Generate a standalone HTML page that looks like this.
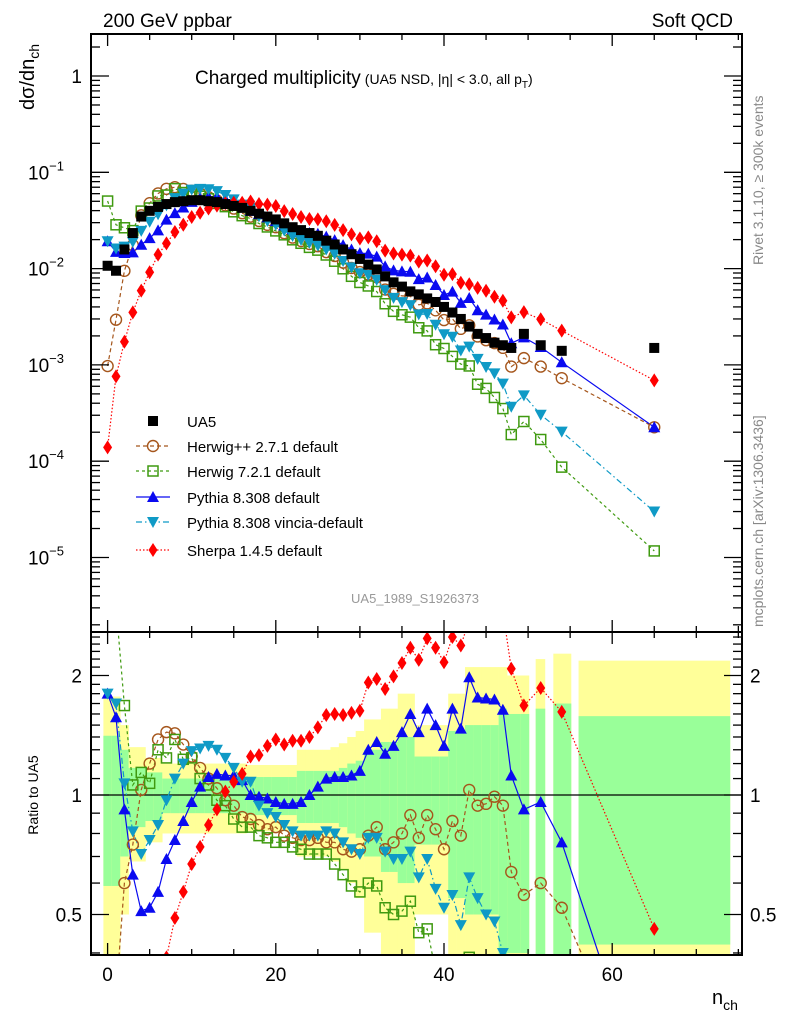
<!DOCTYPE html>
<html><head><meta charset="utf-8"><style>
html,body{margin:0;padding:0;background:#fff;width:786px;height:1024px;overflow:hidden;}
svg{display:block;font-family:"Liberation Sans",sans-serif;}
</style></head><body>
<svg id="chart" width="786" height="1024" viewBox="0 0 786 1024" xmlns="http://www.w3.org/2000/svg">
<defs>
<clipPath id="cm"><rect x="91" y="34" width="651" height="598"/></clipPath>
<clipPath id="cr"><rect x="91" y="632" width="651" height="323"/></clipPath>
</defs>
<g id="bands" clip-path="url(#cr)"></g>
<g id="ratio" clip-path="url(#cr)"></g>
<g id="main" clip-path="url(#cm)"></g>
<g id="axes"></g>
<text x="103" y="27" font-size="19">200 GeV ppbar</text>
<text x="733" y="27" font-size="19" text-anchor="end">Soft QCD</text>
<text x="195" y="84" font-size="19">Charged multiplicity<tspan font-size="14" dx="4">(UA5 NSD, |η| &lt; 3.0, all p</tspan><tspan font-size="10" dy="4">T</tspan><tspan font-size="14" dy="-4">)</tspan></text>
<text transform="translate(34,110) rotate(-90)" font-size="20">dσ/dn<tspan font-size="14" dy="5">ch</tspan></text>
<text transform="translate(38,795) rotate(-90)" font-size="14" text-anchor="middle">Ratio to UA5</text>
<text x="712" y="1004" font-size="20">n<tspan font-size="14" dy="6">ch</tspan></text>
<text x="415" y="603" font-size="13" fill="#999" text-anchor="middle">UA5_1989_S1926373</text>
<text transform="translate(763,265) rotate(-90)" font-size="14" fill="#888">Rivet 3.1.10, ≥ 300k events</text>
<text transform="translate(763,627) rotate(-90)" font-size="14" fill="#888">mcplots.cern.ch [arXiv:1306.3436]</text>
<g id="legend"></g>
</svg>
<script>
const nch=[0,1,2,3,4,5,6,7,8,9,10,11,12,13,14,15,16,17,18,19,20,21,22,23,24,25,26,27,28,29,30,31,32,33,34,35,36,37,38,39,40,41,42,43,44,45,46,47,48,49.5,51.5,54,65];
const binLo=[47.5,49.05,50.9,53,56];
const binHi=[49.05,50.1,52,55.1,74];
const ua5=[0.0107,0.0095,0.0158,0.0234,0.0347,0.0398,0.0437,0.0468,0.049,0.0501,0.0513,0.0513,0.0501,0.049,0.0468,0.0447,0.0427,0.0398,0.0372,0.0347,0.0324,0.0295,0.0269,0.0251,0.0234,0.0219,0.0195,0.0178,0.0158,0.0141,0.0126,0.011,0.0098,0.0083,0.0072,0.0065,0.0058,0.0054,0.0049,0.0045,0.004,0.0035,0.003,0.0025,0.0021,0.0019,0.0017,0.0016,0.0015,0.0021,0.0016,0.0014,0.0015];
const errStat=[.41,.41,.3,.17,.17,.14,.14,.1,.1,.1,.1,.1,.1,.1,.1,.1,.1,.11,.11,.11,.11,.11,.11,.15,.15,.15,.15,.15,.17,.2,.22,.3,.3,.36,.36,.4,.4,.25,.25,.25,.25,.45,.45,.5,.5,.5,.5,.65,.6,.6,.65,.7,.58];
const errTot=[.77,.77,.5,.32,.32,.24,.24,.2,.2,.2,.2,.2,.2,.2,.2,.2,.2,.19,.19,.19,.19,.19,.19,.3,.3,.3,.3,.32,.35,.4,.45,.55,.55,.65,.65,.8,.8,.5,.5,.5,.5,.8,.8,1.1,1.1,1.1,1.1,1.1,1.0,1.0,1.2,1.27,1.18];
const rHerwigPP=[0.091,0.31,0.6,0.75,1.03,1.2,1.38,1.44,1.43,1.34,1.25,1.17,1.1,1.04,0.97,0.94,0.88,0.87,0.84,0.82,0.83,0.79,0.78,0.77,0.77,0.78,0.76,0.76,0.73,0.72,0.73,0.79,0.83,0.73,0.76,0.8,0.89,0.78,0.89,0.82,0.73,0.86,0.79,1.03,0.94,0.95,0.99,0.94,0.64,0.56,0.6,0.52,0.15];
const rHerwig7=[4.7,3.0,1.68,1.06,1.14,1.07,1.3,1.24,1.38,1.23,1.24,1.1,1.06,0.97,0.94,0.87,0.83,0.83,0.79,0.78,0.76,0.76,0.74,0.73,0.71,0.71,0.71,0.67,0.63,0.59,0.57,0.6,0.59,0.52,0.5,0.51,0.54,0.45,0.46,0.36,0.37,0.35,0.34,0.39,0.3,0.3,0.27,0.22,0.126,0.123,0.105,0.062,0.0078];
const rPythia=[1.8,1.57,0.92,0.63,0.51,0.52,0.57,0.69,0.77,0.86,0.96,1.05,1.11,1.13,1.12,1.12,1.09,1.0,0.99,0.98,0.96,0.95,0.95,0.96,1.0,1.05,1.1,1.11,1.11,1.12,1.15,1.3,1.36,1.27,1.33,1.44,1.6,1.44,1.65,1.5,1.33,1.65,1.47,1.98,1.76,1.75,1.74,1.64,1.12,0.92,0.96,0.76,0.15];
const rVincia=[1.8,1.7,1.07,0.81,0.71,0.77,0.84,0.97,1.1,1.2,1.29,1.31,1.33,1.3,1.24,1.17,1.08,1.08,0.94,0.9,0.88,0.84,0.81,0.79,0.79,0.79,0.81,0.8,0.76,0.73,0.71,0.78,0.78,0.72,0.69,0.69,0.72,0.62,0.69,0.58,0.52,0.56,0.47,0.62,0.55,0.5,0.48,0.4,0.245,0.23,0.19,0.145,0.02];
const rSherpa=[0.013,0.08,0.11,0.15,0.17,0.23,0.32,0.39,0.49,0.57,0.67,0.74,0.84,0.92,1.02,1.08,1.13,1.25,1.26,1.33,1.38,1.34,1.37,1.37,1.4,1.48,1.59,1.6,1.59,1.61,1.63,1.92,1.96,1.85,1.99,2.15,2.35,2.19,2.48,2.35,2.16,2.5,2.38,2.75,3.0,3.1,3.0,2.9,2.08,1.68,1.86,1.62,0.46];
const xTicks=[0,20,40,60];
const mainTicks=[0,-1,-2,-3,-4,-5];
const ratioTicks=[0.5,1,2];

const NS='http://www.w3.org/2000/svg';
const X=n=>107.6+8.41*n;
const YM=v=>76-96.3*Math.log10(v);
const YR=r=>795-119.5*Math.log2(r);
function mk(tag,attrs,parent){const e=document.createElementNS(NS,tag);for(const k in attrs)e.setAttribute(k,attrs[k]);parent.appendChild(e);return e;}
const gB=document.getElementById('bands'),gR=document.getElementById('ratio'),gM=document.getElementById('main'),gA=document.getElementById('axes'),gL=document.getElementById('legend');

nch.forEach((n,i)=>{
  const lo=i<48?n-0.5:binLo[i-48], hi=i<48?n+0.5:binHi[i-48];
  const yt=1+errTot[i], yb=Math.max(0.3,1-errTot[i]);
  const r1=mk('rect',{x:X(lo),y:YR(yt),width:X(hi)-X(lo)+0.3,height:YR(yb)-YR(yt),fill:'#ffff99'},gB);
  
  
  const gt=1+errStat[i], gb=Math.max(0.3,1-errStat[i]);
  const r2=mk('rect',{x:X(lo),y:YR(gt),width:X(hi)-X(lo)+0.3,height:YR(gb)-YR(gt),fill:'#99ff99'},gB);
  
  
});
mk('line',{x1:91,x2:742,y1:YR(1),y2:YR(1),stroke:'#000','stroke-width':1.3},gR);

function marker(type,color,cx,cy,parent){
  let e;
  if(type==='sq') e=mk('rect',{x:cx-5,y:cy-5,width:10,height:10,fill:'#000'},parent);
  else if(type==='osq') e=mk('rect',{x:cx-5,y:cy-5,width:10,height:10,fill:'none',stroke:color,'stroke-width':1.5},parent);
  else if(type==='oc') e=mk('circle',{cx:cx,cy:cy,r:5.5,fill:'none',stroke:color,'stroke-width':1.4},parent);
  else if(type==='tu') e=mk('polygon',{points:`${cx},${cy-6} ${cx-6},${cy+5} ${cx+6},${cy+5}`,fill:color},parent);
  else if(type==='td') e=mk('polygon',{points:`${cx},${cy+6} ${cx-6},${cy-5} ${cx+6},${cy-5}`,fill:color},parent);
  else e=mk('polygon',{points:`${cx},${cy-7} ${cx-4.5},${cy} ${cx},${cy+7} ${cx+4.5},${cy}`,fill:color},parent);
  return e;
}
const series=[
 {name:'herwigpp',label:'Herwig++ 2.7.1 default',r:rHerwigPP,color:'#a5561c',m:'oc',dash:'4,3'},
 {name:'herwig7',label:'Herwig 7.2.1 default',r:rHerwig7,color:'#3f9a10',m:'osq',dash:'3,3'},
 {name:'pythia',label:'Pythia 8.308 default',r:rPythia,color:'#0a0af0',m:'tu',dash:''},
 {name:'vincia',label:'Pythia 8.308 vincia-default',r:rVincia,color:'#0f9ac6',m:'td',dash:'6,3,1.5,3'},
 {name:'sherpa',label:'Sherpa 1.4.5 default',r:rSherpa,color:'#ff0000',m:'dm',dash:'1.5,2'}
];
series.forEach(s=>{
  const pm=nch.map((n,i)=>X(n).toFixed(1)+','+YM(ua5[i]*s.r[i]).toFixed(1)).join(' ');
  const l1=mk('polyline',{points:pm,fill:'none',stroke:s.color,'stroke-width':1.2,'stroke-dasharray':s.dash},gM);
  
  
  const pr=nch.map((n,i)=>X(n).toFixed(1)+','+YR(s.r[i]).toFixed(1)).join(' ');
  const l2=mk('polyline',{points:pr,fill:'none',stroke:s.color,'stroke-width':1.2,'stroke-dasharray':s.dash},gR);
  
  
});
series.forEach(s=>{
  nch.forEach((n,i)=>{
    const a=marker(s.m,s.color,X(n),YM(ua5[i]*s.r[i]),gM);
    
    
    const b=marker(s.m,s.color,X(n),YR(s.r[i]),gR);
    
    
  });
});
nch.forEach((n,i)=>{
  const a=marker('sq','#000',X(n),YM(ua5[i]),gM);
  
  
});

mk('rect',{x:91,y:34,width:651,height:598,fill:'none',stroke:'#000','stroke-width':2},gA);
mk('rect',{x:91,y:632,width:651,height:323,fill:'none',stroke:'#000','stroke-width':2},gA);
for(let n=0;n<=75;n+=5){
  const L=n%20===0?12:6, x=X(n);
  [[34,1],[632,-1],[632,1],[955,-1]].forEach(([y,d])=>mk('line',{x1:x,x2:x,y1:y,y2:y+d*L,stroke:'#000','stroke-width':1.3},gA));
}
xTicks.forEach(t=>{const e=mk('text',{x:X(t),y:981,'font-size':19,'text-anchor':'middle'},gA);e.textContent=t;
  
  });
for(let d=1;d>=-6;d--){for(let k=1;k<=9;k++){const v=k*Math.pow(10,d);const y=YM(v);if(y<35||y>631)continue;const L=k===1?18:9;
  mk('line',{x1:91,x2:91+L,y1:y,y2:y,stroke:'#000','stroke-width':1.3},gA);mk('line',{x1:742,x2:742-L,y1:y,y2:y,stroke:'#000','stroke-width':1.3},gA);}}
mainTicks.forEach(t=>{const y=YM(Math.pow(10,t));
  const e=mk('text',{x:t===0?82:64,y:y+7,'font-size':19,'text-anchor':'end'},gA);
  
  
  if(t===0){e.textContent='1';}else{e.textContent='10';const s=mk('tspan',{'font-size':13,dy:-9},e);s.textContent='−'+(-t);}
});
for(let r=0.4;r<=2.55;r+=0.1){const rr=Math.round(r*10)/10;const y=YR(rr);if(y<633||y>954)continue;const L=(rr===0.5||rr===1||rr===2)?18:9;
  mk('line',{x1:91,x2:91+L,y1:y,y2:y,stroke:'#000','stroke-width':1.3},gA);mk('line',{x1:742,x2:742-L,y1:y,y2:y,stroke:'#000','stroke-width':1.3},gA);}
ratioTicks.forEach(t=>{const y=YR(t)+7;
  const a=mk('text',{x:82,y:y,'font-size':19,'text-anchor':'end'},gA);a.textContent=t;
  
  
  const b=mk('text',{x:750,y:y,'font-size':19},gA);b.textContent=t;
  
  });

const ly=[421,446,471,497,522,550];
const lg=mk('g',{},gL);
marker('sq','#000',153,ly[0],lg);
const t0=mk('text',{x:187,y:ly[0]+6,'font-size':15},lg);t0.textContent='UA5';


series.forEach((s,i)=>{const y=ly[i+1];
  mk('line',{x1:136,x2:170,y1:y,y2:y,stroke:s.color,'stroke-width':1.2,'stroke-dasharray':s.dash},lg);
  marker(s.m,s.color,153,y,lg);
  const t=mk('text',{x:187,y:y+6,'font-size':15},lg);t.textContent=s.label;
  
  });
</script>
</body></html>
